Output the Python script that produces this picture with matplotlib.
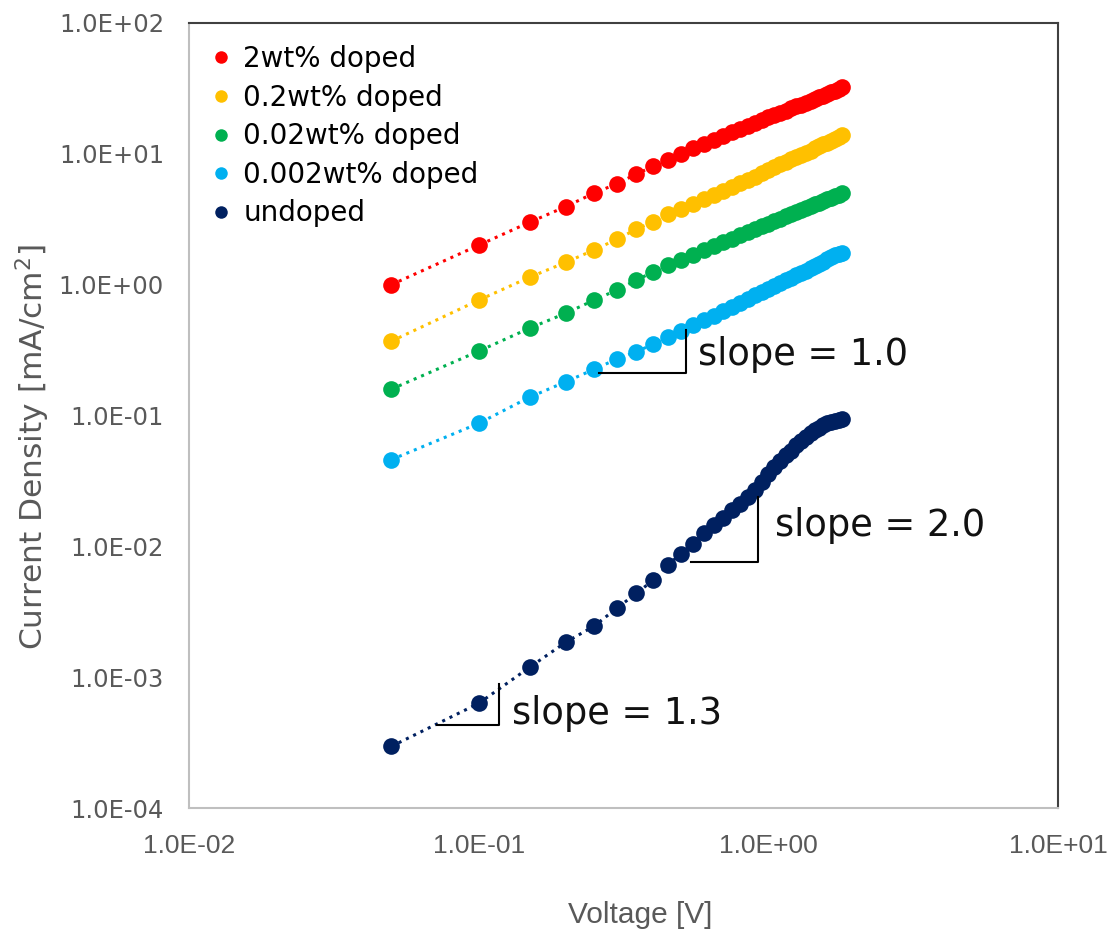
import matplotlib
matplotlib.use('Agg')
import matplotlib.pyplot as plt
from matplotlib.ticker import FixedLocator, FuncFormatter, NullLocator
from matplotlib.lines import Line2D

# 数据
voltage = [0.05, 0.10, 0.15, 0.20, 0.25, 0.30, 0.35, 0.40, 0.45, 0.50,
           0.55, 0.60, 0.65, 0.70, 0.75, 0.80, 0.85, 0.90, 0.95, 1.00,
           1.05, 1.10, 1.15, 1.20, 1.25, 1.30, 1.35, 1.40, 1.45, 1.50,
           1.55, 1.60, 1.65, 1.70, 1.75, 1.80]

j_2wt = [1.0, 2.0, 3.0, 3.95, 5.0, 5.9, 7.0, 8.0, 9.0, 10.0,
         11.0, 11.9, 12.8, 13.7, 14.6, 15.5, 16.4, 17.3, 18.2, 19.0,
         19.8, 20.6, 21.4, 22.3, 23.0, 23.8, 24.6, 25.4, 26.2, 27.0,
         27.8, 28.6, 29.5, 30.4, 31.4, 32.6]

j_02wt = [0.37, 0.76, 1.14, 1.48, 1.84, 2.22, 2.65, 3.03, 3.45, 3.8,
          4.15, 4.5, 4.85, 5.2, 5.55, 5.95, 6.3, 6.7, 7.1, 7.5,
          7.9, 8.3, 8.7, 9.1, 9.5, 9.85, 10.2, 10.6, 11.0, 11.4,
          11.8, 12.2, 12.6, 13.0, 13.45, 13.9]

j_002wt = [0.159, 0.31, 0.465, 0.605, 0.76, 0.91, 1.08, 1.25, 1.41, 1.55,
           1.69, 1.83, 1.97, 2.1, 2.24, 2.38, 2.52, 2.66, 2.8, 2.93,
           3.06, 3.19, 3.32, 3.45, 3.58, 3.71, 3.84, 3.97, 4.1, 4.22,
           4.35, 4.48, 4.6, 4.73, 4.86, 4.99]

j_0002wt = [0.046, 0.087, 0.138, 0.181, 0.225, 0.27, 0.307, 0.35, 0.395, 0.44,
            0.49, 0.535, 0.58, 0.63, 0.68, 0.73, 0.78, 0.83, 0.88, 0.93,
            0.98, 1.03, 1.08, 1.13, 1.18, 1.23, 1.28, 1.33, 1.39, 1.44,
            1.5, 1.56, 1.62, 1.68, 1.72, 1.76]

j_undoped = [2.96e-4, 6.3e-4, 1.19e-3, 1.85e-3, 2.45e-3, 3.37e-3, 4.36e-3, 5.5e-3, 7.2e-3, 8.8e-3,
             0.0105, 0.0126, 0.0145, 0.0165, 0.0188, 0.0212, 0.024, 0.027, 0.031, 0.0355,
             0.0405, 0.045, 0.0495, 0.054, 0.059, 0.064, 0.0685, 0.073, 0.077, 0.0805,
             0.084, 0.087, 0.0895, 0.0915, 0.093, 0.094]

labels = ['2wt% doped', '0.2wt% doped', '0.02wt% doped', '0.002wt% doped', 'undoped']
colors = ['#FF0000', '#FFC000', '#00B050', '#00B0F0', '#002060']
series = [j_2wt, j_02wt, j_002wt, j_0002wt, j_undoped]

x_ticks = [1e-2, 1e-1, 1e0, 1e1]
y_ticks = [1e-4, 1e-3, 1e-2, 1e-1, 1e0, 1e1, 1e2]

# 斜率三角形（数据坐标）及文字
slope_tris = [
    ([0.26, 0.52, 0.52], [0.21, 0.21, 0.45]),
    ([0.54, 0.92, 0.92], [7.6e-3, 7.6e-3, 0.024]),
    ([0.072, 0.118, 0.118], [4.3e-4, 4.3e-4, 8.8e-4]),
]
slope_texts = [('slope = 1.0', 0.573, 0.29),
               ('slope = 2.0', 1.057, 0.0145),
               ('slope = 1.3', 0.13, 5.3e-4)]

narrow = ['Liberation Sans', 'DejaVu Sans']

fig = plt.figure(figsize=(11.07, 9.34), dpi=100)
ax = fig.add_axes([0.1707, 0.1349, 0.785, 0.8405])

for ys, c in zip(series, colors):
    ax.plot(voltage, ys, linestyle=':', lw=2.2, marker='o', ms=12,
            color=c, markeredgewidth=0)

for xs, ys in slope_tris:
    ax.plot(xs, ys, color='black', lw=1.5)
for t, x, y in slope_texts:
    ax.text(x, y, t, fontsize=26.5, va='center', ha='left', color='#111111')

ax.set_xscale('log')
ax.set_yscale('log')
ax.set_xlim(1e-2, 1e1)
ax.set_ylim(1e-4, 1e2)

fmt = FuncFormatter(lambda v, p: '%.1E' % v)
ax.xaxis.set_major_locator(FixedLocator(x_ticks))
ax.yaxis.set_major_locator(FixedLocator(y_ticks))
ax.xaxis.set_major_formatter(fmt)
ax.yaxis.set_major_formatter(fmt)
ax.xaxis.set_minor_locator(NullLocator())
ax.yaxis.set_minor_locator(NullLocator())
ax.tick_params(length=0)
ax.tick_params(axis='y', pad=18, labelsize=17.5, labelcolor='#595959')
ax.tick_params(axis='x', pad=19, labelsize=19, labelcolor='#595959')
for lab in ax.get_xticklabels():
    lab.set_family(narrow)

for s in ['left', 'bottom']:
    ax.spines[s].set_color('#BFBFBF')
    ax.spines[s].set_linewidth(1.5)
for s in ['top', 'right']:
    ax.spines[s].set_color('#404040')
    ax.spines[s].set_linewidth(1.5)

fig.text(0.578, 0.0203, 'Voltage [V]', fontsize=21.5, color='#595959',
         ha='center', va='center', family=narrow)
fig.text(0.0298, 0.5214, 'Current Density [mA/cm$^2$]', fontsize=22.5, color='#595959',
         ha='center', va='center', rotation=90)

handles = [Line2D([], [], linestyle='none', marker='o', ms=9, color=c,
                  markeredgewidth=0) for c in colors]
ax.legend(handles, labels, loc='upper left', bbox_to_anchor=(0.0, 1.0),
          frameon=False, fontsize=20, handlelength=0.7, handletextpad=0.45,
          labelspacing=0.38, borderaxespad=0.4)

fig.savefig('out.png', dpi=100)
